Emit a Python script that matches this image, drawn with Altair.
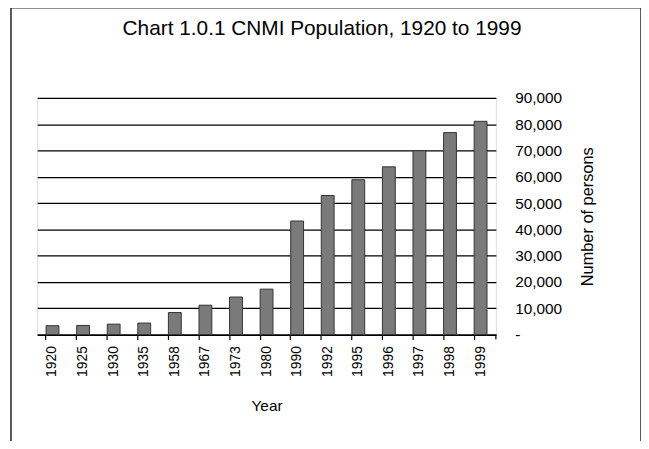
import altair as alt
import pandas as pd

# ---- data ----
years = ['1920', '1925', '1930', '1935', '1958', '1967', '1973', '1980',
         '1990', '1992', '1995', '1996', '1997', '1998', '1999']
population = [3400, 3500, 4000, 4400, 8400, 11200, 14300, 17300,
              43200, 52900, 58900, 63800, 69900, 76800, 81100]
y_ticks = [0, 10000, 20000, 30000, 40000, 50000, 60000, 70000, 80000, 90000]

df = pd.DataFrame({'Year': years, 'Population': population})
one = pd.DataFrame({'k': [0]})

W, H = 463, 239
FONT = 'Liberation Sans'

bars = alt.Chart(df).mark_bar(
    color='#7a7a7a', stroke='#333333', strokeWidth=1
).encode(
    x=alt.X('Year:N', sort=None, title='Year',
            scale=alt.Scale(paddingInner=0.58, paddingOuter=0.29),
            axis=alt.Axis(labelAngle=270, bandPosition=0, ticks=True, tickSize=5,
                          tickColor='black', tickWidth=1.2, domainColor='black',
                          domainWidth=1.5, labelFontSize=14, labelPadding=6,
                          labelColor='black', labelFont=FONT, titleFont=FONT,
                          titleFontSize=15.5, titleFontWeight='normal',
                          titleColor='black', titlePadding=22, grid=False)),
    y=alt.Y('Population:Q', title='Number of persons',
            scale=alt.Scale(domain=[0, 90000], nice=False),
            axis=alt.Axis(orient='right', values=y_ticks, domain=False, ticks=False,
                          grid=True, gridColor='black', gridWidth=1.1,
                          labelExpr="datum.value == 0 ? '-' : format(datum.value, ',')",
                          labelPadding=19, labelFontSize=15.5, labelFont=FONT,
                          labelColor='black', titleFont=FONT, titleFontSize=16.5,
                          titleFontWeight='normal', titleColor='black',
                          titleAngle=270, titleBaseline='top', titlePadding=18))
)

end_tick = alt.Chart(one).mark_rule(color='black', strokeWidth=1.2).encode(
    x=alt.value(W), y=alt.value(H), y2=alt.value(H + 5)
)

border = alt.Chart(one).mark_rect(
    fill=None, stroke='#222222', strokeWidth=1.5
).encode(
    x=alt.value(-26.5), x2=alt.value(609.5), y=alt.value(-91), y2=alt.value(360)
)

chart = alt.layer(bars, end_tick, border).properties(
    width=W, height=H,
    title=alt.TitleParams('Chart 1.0.1 CNMI Population, 1920 to 1999',
                          font=FONT, fontSize=21, fontWeight='normal', color='black',
                          anchor='middle', frame='group', dx=56, offset=0, dy=49,
                          baseline='alphabetic'),
    autosize=alt.AutoSizeParams(type='none'),
    padding={'left': 29.5, 'top': 88.7, 'right': 146.5, 'bottom': 105.3},
).configure_view(stroke=None).configure(background='white')

chart.save('out.html', embed_options={'renderer': 'svg', 'actions': False})
